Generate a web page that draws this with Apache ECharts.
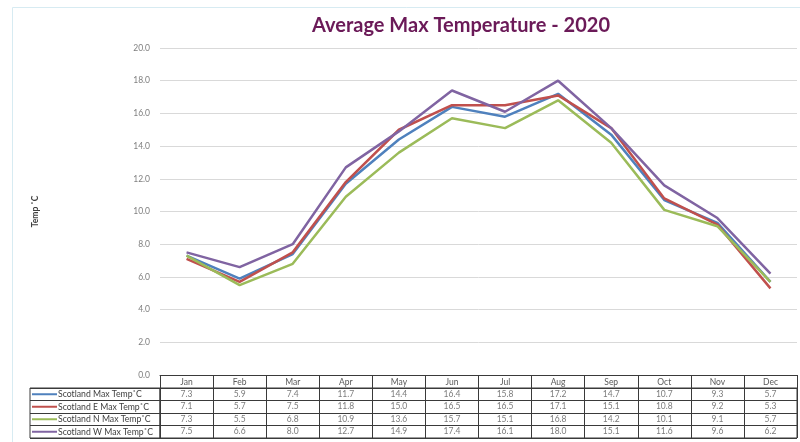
<!DOCTYPE html>
<html><head><meta charset="utf-8">
<script src="https://cdn.jsdelivr.net/npm/echarts@6/dist/echarts.min.js"></script>
<style>html,body{margin:0;padding:0;background:#fff}#c{width:800px;height:442px}</style>
</head><body><div id="c"></div>
<script>
const months = ['Jan','Feb','Mar','Apr','May','Jun','Jul','Aug','Sep','Oct','Nov','Dec'];
const seriesNames = ['Scotland Max Temp˚C','Scotland E Max Temp˚C','Scotland N Max Temp˚C','Scotland W Max Temp˚C'];
const scotlandMax = [7.3,5.9,7.4,11.7,14.4,16.4,15.8,17.2,14.7,10.7,9.3,5.7];
const scotlandE   = [7.1,5.7,7.5,11.8,15.0,16.5,16.5,17.1,15.1,10.8,9.2,5.3];
const scotlandN   = [7.3,5.5,6.8,10.9,13.6,15.7,15.1,16.8,14.2,10.1,9.1,5.7];
const scotlandW   = [7.5,6.6,8.0,12.7,14.9,17.4,16.1,18.0,15.1,11.6,9.6,6.2];
const colors = ['#4F81BD','#C0504D','#9BBB59','#8064A2'];
const allData = [scotlandMax, scotlandE, scotlandN, scotlandW];

const font = 'Lato, "Open Sans", sans-serif';
const tableBorder = '#3a3a3a';
const rich = {};
colors.forEach((c,i)=>{ rich['l'+i] = {backgroundColor:c, width:25, height:2}; });
rich.t = {fontSize:8.7, color:'#404040', fontFamily:font, padding:[0,0,0,1]};

const lineSeries = allData.map((d,i)=>({
  type:'line', name:seriesNames[i], xAxisIndex:0, yAxisIndex:0, data:d,
  symbol:'none', lineStyle:{color:colors[i], width:2.5}, itemStyle:{color:colors[i]}, z:3+i
}));
const cellSeries = allData.map((d,i)=>({
  type:'scatter', xAxisIndex:1, yAxisIndex:1, symbolSize:0, silent:true,
  data:d.map((v,j)=>[months[j], seriesNames[i], v]),
  label:{show:true, position:'inside', fontSize:8.5, color:'#595959', fontFamily:font,
         formatter:p=>p.value[2].toFixed(1)}
}));

const chart = echarts.init(document.getElementById('c'), null, {renderer:'canvas'});
chart.setOption({
  backgroundColor:'#fff',
  animation:false,
  title:{text:'Average Max Temperature - 2020', left:461, textAlign:'center', top:16, padding:0,
    textStyle:{color:'#6B1A58', fontSize:20, fontWeight:'bold', fontFamily:font}},
  graphic:[{type:'polyline', shape:{points:[[12.5,445],[12.5,7.5],[805,7.5]]},
    style:{stroke:'#D7EBF2', lineWidth:1, fill:null}, silent:true}],
  grid:[
    {left:160, right:3, top:48, bottom:67},
    {left:160, right:3, top:388, bottom:4, show:true, borderColor:tableBorder, borderWidth:1},
    {left:30, width:130, top:388, bottom:4, show:true, borderColor:tableBorder, borderWidth:1}
  ],
  xAxis:[
    {type:'category', gridIndex:0, data:months, boundaryGap:true,
     axisLine:{lineStyle:{color:tableBorder, width:1}},
     axisTick:{show:true, length:13, lineStyle:{color:tableBorder}},
     axisLabel:{fontSize:8.5, color:'#595959', margin:3, fontFamily:font}},
    {type:'category', gridIndex:1, data:months, boundaryGap:true,
     axisLine:{show:false}, axisTick:{show:false}, axisLabel:{show:false},
     splitLine:{show:true, interval:0, lineStyle:{color:tableBorder, width:1}}},
    {type:'value', gridIndex:2, show:false}
  ],
  yAxis:[
    {type:'value', gridIndex:0, min:0, max:20, interval:2,
     name:'Temp ˚C', nameLocation:'middle', nameGap:120, nameRotate:90,
     nameTextStyle:{fontSize:8.5, fontWeight:'bold', color:'#404040', fontFamily:font},
     axisLine:{show:false}, axisTick:{show:false},
     axisLabel:{fontSize:8.5, color:'#7f7f7f', margin:10, fontFamily:font, formatter:v=>v.toFixed(1)},
     splitLine:{lineStyle:{color:'#D9D9D9', width:1}}},
    {type:'category', gridIndex:1, data:seriesNames, inverse:true,
     axisLine:{show:false}, axisTick:{show:false},
     splitLine:{show:true, interval:0, lineStyle:{color:tableBorder, width:1}},
     axisLabel:{align:'left', margin:128, interval:0,
       formatter:(v,i)=>'{l'+i+'|}{t|'+v+'}', rich:rich}},
    {type:'category', gridIndex:2, data:seriesNames, inverse:true,
     axisLine:{show:false}, axisTick:{show:false}, axisLabel:{show:false},
     splitLine:{show:true, interval:0, lineStyle:{color:tableBorder, width:1}}}
  ],
  series: lineSeries.concat(cellSeries)
});
</script></body></html>
